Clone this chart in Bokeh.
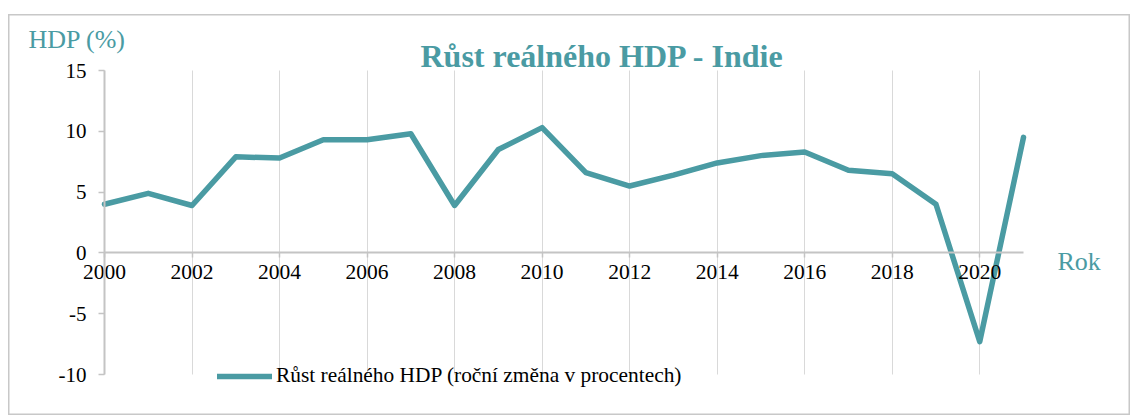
from bokeh.plotting import figure
from bokeh.models import Range1d, FixedTicker, Label, Legend, LegendItem
from bokeh.embed import file_html
from bokeh.resources import INLINE

# ---- data ----
years = [2000, 2001, 2002, 2003, 2004, 2005, 2006, 2007, 2008, 2009, 2010,
         2011, 2012, 2013, 2014, 2015, 2016, 2017, 2018, 2019, 2020, 2021]
growth = [4.0, 4.9, 3.9, 7.9, 7.8, 9.3, 9.3, 9.8, 3.9, 8.5, 10.3,
          6.6, 5.5, 6.4, 7.4, 8.0, 8.3, 6.8, 6.5, 4.0, -7.3, 9.5]
x_ticks = [2000, 2002, 2004, 2006, 2008, 2010, 2012, 2014, 2016, 2018, 2020]
y_ticks = [-10, -5, 0, 5, 10, 15]
y_tick_labels = ["-10", "-5", "0", "5", "10", "15"]
title_text = "Růst reálného HDP - Indie"
y_title = "HDP (%)"
x_title = "Rok"
series_name = "Růst reálného HDP (roční změna v procentech)"

TEAL = "#4a9ba3"
GREY = "#c4c4c4"
FONT = "Liberation Serif"

# ---- layout geometry (page pixels) ----
FIG_X, FIG_Y = 8, 14          # top-left corner of the chart box on the page
W, H = 1122, 401              # chart box size
PX_X0, PX_X1 = 104, 1023      # pixel positions of first / last year
PX_Y15, PX_YM10 = 70, 374     # pixel positions of 15 and -10

x0, x1 = years[0], years[-1]
ppx = (PX_X1 - PX_X0) / (x1 - x0)
ppy = (PX_YM10 - PX_Y15) / (15 - (-10))
x_start = x0 - (PX_X0 - FIG_X) / ppx
x_end = x1 + (FIG_X + W - PX_X1) / ppx
y_end = 15 + (PX_Y15 - FIG_Y) / ppy
y_start = -10 - (FIG_Y + H - PX_YM10) / ppy


def dx(px):
    return x_start + (px - FIG_X) / ppx


def dy(py):
    return y_end - (py - FIG_Y) / ppy


p = figure(width=W, height=H, output_backend="svg", toolbar_location=None,
           x_range=Range1d(x_start, x_end), y_range=Range1d(y_start, y_end),
           min_border=0, min_border_left=0, min_border_right=0,
           min_border_top=0, min_border_bottom=0)
p.margin = (FIG_Y, 0, 0, FIG_X)
p.outline_line_color = "#c8c8c8"
p.outline_line_width = 2
p.background_fill_color = "white"
p.border_fill_color = "white"

r = p.line(years, growth, line_color=TEAL, line_width=5.5,
           line_cap="round", line_join="round")

# axes drawn inside the frame at fixed positions
p.xaxis.fixed_location = 0
p.xaxis.bounds = (x0, x1)
p.xaxis.ticker = FixedTicker(ticks=x_ticks)
p.xaxis.axis_line_color = GREY
p.xaxis.axis_line_width = 2
p.xaxis.major_tick_line_color = GREY
p.xaxis.major_tick_line_width = 1.5
p.xaxis.major_tick_in = 0
p.xaxis.major_tick_out = 5
p.xaxis.minor_tick_line_color = None
p.xaxis.major_label_text_font = FONT
p.xaxis.major_label_text_font_size = "21.5px"
p.xaxis.major_label_text_color = "black"
p.xaxis.major_label_standoff = 7

p.yaxis.fixed_location = x0
p.yaxis.bounds = (-10, 15)
p.yaxis.ticker = FixedTicker(ticks=y_ticks)
p.yaxis.major_label_overrides = {t: s for t, s in zip(y_ticks, y_tick_labels)}
p.yaxis.axis_line_color = GREY
p.yaxis.axis_line_width = 2
p.yaxis.major_tick_line_color = GREY
p.yaxis.major_tick_line_width = 1.5
p.yaxis.major_tick_in = 0
p.yaxis.major_tick_out = 6
p.yaxis.minor_tick_line_color = None
p.yaxis.major_label_text_font = FONT
p.yaxis.major_label_text_font_size = "21px"
p.yaxis.major_label_text_color = "black"
p.yaxis.major_label_standoff = 12

p.xgrid.ticker = FixedTicker(ticks=x_ticks)
p.xgrid.bounds = (x0, x1)
p.xgrid.cross_bounds = (-10, 15)
p.xgrid.grid_line_color = "#d9d9d9"
p.xgrid.grid_line_width = 1
p.ygrid.grid_line_color = None

# texts
p.add_layout(Label(x=dx(420), y=dy(55), text=title_text, text_font=FONT,
                   text_font_size="32px", text_font_style="bold",
                   text_color=TEAL, text_baseline="alphabetic"))
p.add_layout(Label(x=dx(28), y=dy(39), text=y_title, text_font=FONT,
                   text_font_size="26px", text_color=TEAL,
                   text_baseline="alphabetic"))
p.add_layout(Label(x=dx(1057), y=dy(261), text=x_title, text_font=FONT,
                   text_font_size="26px", text_color=TEAL,
                   text_baseline="alphabetic"))

legend = Legend(items=[LegendItem(label=series_name, renderers=[r])],
                location=(217 - FIG_X, FIG_Y + H - 388), orientation="horizontal",
                glyph_width=55, glyph_height=20, label_standoff=4,
                padding=0, margin=0, border_line_color=None,
                background_fill_alpha=0,
                label_text_font=FONT, label_text_font_size="21.4px",
                label_text_color="black")
p.add_layout(legend, "center")

open("out.html", "w").write(file_html(p, INLINE))
